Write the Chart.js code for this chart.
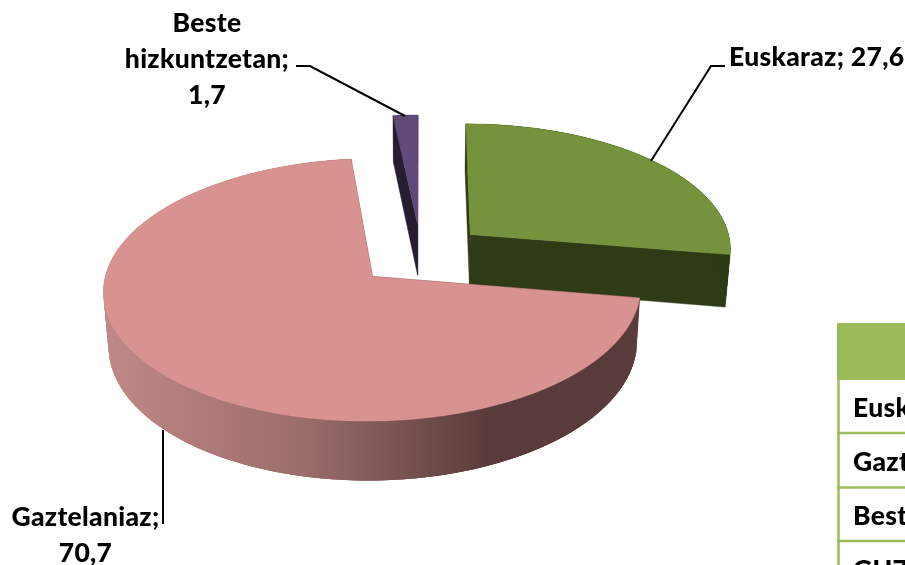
<!DOCTYPE html>
<html><head><meta charset="utf-8">
<script src="https://cdn.jsdelivr.net/npm/chart.js@4/dist/chart.umd.js"></script>
<style>html,body{margin:0;padding:0;background:#fff;overflow:hidden}#w{position:absolute;left:0;top:0;width:905px;height:565px}</style>
</head><body><div id="w"><canvas id="c" width="905" height="565"></canvas></div>
<script>
const categories = ['Euskaraz', 'Gaztelaniaz', 'Beste hizkuntzetan'];
const values = [27.6, 70.7, 1.7];
const topColors = ['#76923C', '#D89391', '#604A7B'];
const wallColors = ['#2F3A16', '#5C3B3B', '#261D31'];
const tableRows = ['Euskaraz', 'Gaztelaniaz', 'Beste hizkuntzetan', 'GUZTIRA'];

const FONT = '900 26.5px Lato, "Open Sans", sans-serif';
const view = {x0: 421, y0: 254.5, A: 262.5, B: 125.5, p: 0.1, H: 52.5, shrink: 0.984, explode: 0.25};

function project(u, v, low) {
  const w = 1 - view.p * v;
  let x = view.A * u / w, y = view.B * v / w;
  if (low) { x *= view.shrink; y += view.H / w; }
  return [view.x0 + x, view.y0 + y];
}
function poly(ctx, pts, fill, noStroke) {
  ctx.beginPath();
  pts.forEach((p, i) => i ? ctx.lineTo(p[0], p[1]) : ctx.moveTo(p[0], p[1]));
  ctx.closePath();
  ctx.fillStyle = fill; ctx.fill();
  if (!noStroke) { ctx.strokeStyle = fill; ctx.lineWidth = 0.5; ctx.stroke(); }
}
const pie3d = {
  id: 'pie3d',
  beforeDatasetDraw(chart) {
    const ctx = chart.ctx, arcs = chart.getDatasetMeta(0).data;
    const order = [2, 0, 1];
    ctx.save();
    for (const i of order) {
      const a = arcs[i], s = a.startAngle, e = a.endAngle, m = (s + e) / 2;
      const cu = view.explode * Math.cos(m), cv = view.explode * Math.sin(m);
      const pt = (t, low) => project(cu + Math.cos(t), cv + Math.sin(t), low);
      const apex = low => project(cu, cv, low);
      const n = Math.max(4, Math.ceil((e - s) * 60));
      const rim = [], rimLow = [];
      for (let k = 0; k <= n; k++) {
        const t = s + (e - s) * k / n;
        rim.push(pt(t, false)); rimLow.push(pt(t, true));
      }
      const wall = wallColors[i];
      let wallOuter = wall;
      if (i === 1) {
        wallOuter = ctx.createLinearGradient(105, 0, 640, 0);
        wallOuter.addColorStop(0, '#C08987');
        wallOuter.addColorStop(0.38, '#996C6A');
        wallOuter.addColorStop(0.72, '#5A3B3B');
        wallOuter.addColorStop(1, '#5A3B3B');
      }
      poly(ctx, [apex(false), pt(s, false), pt(s, true), apex(true)], wall);
      poly(ctx, [apex(false), pt(e, false), pt(e, true), apex(true)], wall);
      for (let k = 0; k < n; k++) {
        const j = Math.min(n, k + 3);
        poly(ctx, [rim[k], rim[j], rimLow[j], rimLow[k]], wallOuter, true);
      }
      poly(ctx, [apex(false)].concat(rim), topColors[i]);
    }
    ctx.restore();
    return false;
  },
  afterDatasetsDraw(chart) {
    const ctx = chart.ctx;
    ctx.save();
    // leader lines
    ctx.strokeStyle = '#000'; ctx.lineWidth = 2; ctx.lineJoin = 'miter';
    [[[651,161],[711,66],[725,66]], [[405,116],[310,66],[296,66]], [[163,430],[163,524]]].forEach(l => {
      ctx.beginPath();
      l.forEach((p, i) => i ? ctx.lineTo(p[0], p[1]) : ctx.moveTo(p[0], p[1]));
      ctx.stroke();
    });
    // labels
    const fmt = v => v.toFixed(1).replace('.', ',');
    ctx.font = FONT; ctx.letterSpacing = '0.3px'; ctx.fillStyle = '#000'; ctx.textBaseline = 'middle';
    ctx.textAlign = 'left';
    ctx.fillText(categories[0] + '; ' + fmt(values[0]), 729, 57);
    ctx.textAlign = 'center';
    ctx.fillText('Beste', 207, 23);
    ctx.fillText('hizkuntzetan;', 207, 59);
    ctx.fillText(fmt(values[2]), 207, 95);
    ctx.fillText(categories[1] + ';', 85.5, 517);
    ctx.fillText(fmt(values[1]), 85.5, 553);
    // table
    ctx.fillStyle = '#9BBB59';
    ctx.fillRect(837, 323, 68, 57);
    ctx.strokeStyle = '#9BBB59'; ctx.lineWidth = 2.5;
    ctx.beginPath(); ctx.moveTo(838.5, 323); ctx.lineTo(838.5, 565);
    [433, 487.5, 541].forEach(y => { ctx.moveTo(837, y); ctx.lineTo(905, y); });
    ctx.stroke();
    ctx.fillStyle = '#000'; ctx.textAlign = 'left';
    [408, 462, 516, 570].forEach((y, i) => ctx.fillText(tableRows[i], 853, y));
    ctx.restore();
  }
};
new Chart(document.getElementById('c'), {
  type: 'pie',
  data: {labels: categories, datasets: [{data: values, backgroundColor: topColors, borderWidth: 0}]},
  options: {
    responsive: false, animation: false, rotation: 0,
    plugins: {legend: {display: false}, tooltip: {enabled: false}}
  },
  plugins: [pie3d]
});
</script></body></html>
